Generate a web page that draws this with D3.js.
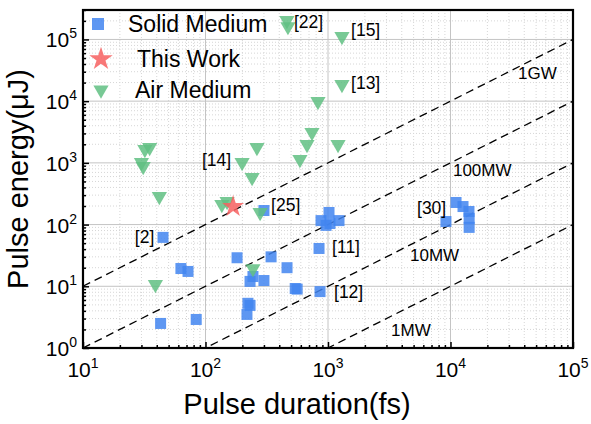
<!DOCTYPE html>
<html>
<head>
<meta charset="utf-8">
<script src="https://cdn.jsdelivr.net/npm/d3@7"></script>
<style>
  body { margin: 0; background: #fff; }
  text { font-family: "Liberation Sans", Arial, sans-serif; }
</style>
</head>
<body>
<div id="chart-area"></div>
<script>
// data: pulse duration (fs) and pulse energy (uJ)
let solidT = [45, 63, 72, 43, 84, 181, 343, 463, 244, 231, 300, 540, 560, 861, 845, 222, 231, 218, 300,
              877, 1019, 1038, 1230, 964, 11100, 12650, 14150, 14200, 14200, 9180];
let solidE = [62, 19.4, 17.4, 2.5, 2.9, 29, 30, 20, 14.4, 12, 12.4, 9.2, 9.0, 8.2, 41, 5.3, 4.9, 3.5, 169,
              116, 157, 104, 116, 97, 228, 196, 163, 126, 90, 112];

let airT = [462, 471, 1300, 1300, 828, 740, 674, 1208, 590, 263, 199, 240, 150, 136, 279, 244, 32, 35, 30, 31, 42, 39];
let airE = [203000, 162000, 112000, 18660, 9890, 3110, 1987, 1987, 1136, 1777, 1015, 580, 237, 212, 157, 19.4,
            1650, 1777, 1015, 875, 285, 10.7];

let thisT = [168];
let thisE = [196];

// reference labels: text, duration, energy of the label's left edge
let refText = ["[22]", "[15]", "[13]", "[14]", "[25]", "[2]", "[30]", "[11]", "[12]"];
let refT = [527, 1542, 1542, 93.5, 343, 26.5, 5330, 1080, 1120];
let refE = [196000, 145000, 20100, 1136, 212, 64, 189, 44, 8.2];

// constant power lines, E(uJ) = P(GW) * t(fs)
let powerText = ["1GW", "100MW", "10MW", "1MW"];
let powerGW = [1, 0.1, 0.01, 0.001];
let powerLabelT = [35600, 10470, 4670, 3270];
let powerLabelE = [29200, 782, 32.8, 2.0];

let xTicks = [10, 100, 1000, 10000, 100000];
let yTicks = [1, 10, 100, 1000, 10000, 100000];

let margin = {top: 10, right: 18, bottom: 76, left: 83};
let width = 591 - margin.left - margin.right;
let height = 424 - margin.top - margin.bottom;

let svg = d3.select("#chart-area").append("svg")
    .attr("width", 591)
    .attr("height", 424)
  .append("g")
    .attr("transform", "translate(" + margin.left + "," + margin.top + ")");

let xScale = d3.scaleLog().domain([10, 100000]).range([0, width]);
let yScale = d3.scaleLog().domain([1, 3e5]).range([height, 0]);

// minor values for grid and ticks
let xMinor = [];
for (let d = 10; d < 100000; d *= 10) for (let k = 2; k <= 9; k++) xMinor.push(d * k);
let yMinor = [];
for (let d = 1; d < 3e5; d *= 10) for (let k = 2; k <= 9; k++) if (d * k <= 3e5) yMinor.push(d * k);

// grid
svg.append("g").selectAll("line").data(xMinor).enter().append("line")
    .attr("x1", d => xScale(d)).attr("x2", d => xScale(d))
    .attr("y1", 0).attr("y2", height)
    .attr("stroke", "#d6d6d6").attr("stroke-dasharray", "1,2");
svg.append("g").selectAll("line").data(yMinor).enter().append("line")
    .attr("y1", d => yScale(d)).attr("y2", d => yScale(d))
    .attr("x1", 0).attr("x2", width)
    .attr("stroke", "#d6d6d6").attr("stroke-dasharray", "1,2");
svg.append("g").selectAll("line").data(xTicks).enter().append("line")
    .attr("x1", d => xScale(d)).attr("x2", d => xScale(d))
    .attr("y1", 0).attr("y2", height)
    .attr("stroke", "#c4c4c4");
svg.append("g").selectAll("line").data(yTicks).enter().append("line")
    .attr("y1", d => yScale(d)).attr("y2", d => yScale(d))
    .attr("x1", 0).attr("x2", width)
    .attr("stroke", "#c4c4c4");

// power lines
svg.append("clipPath").attr("id", "clip")
  .append("rect").attr("width", width).attr("height", height);

let tRange = [10, 100000];
svg.append("g").attr("clip-path", "url(#clip)")
  .selectAll("line").data(powerGW).enter().append("line")
    .attr("x1", xScale(tRange[0])).attr("y1", p => yScale(p * tRange[0]))
    .attr("x2", xScale(tRange[1])).attr("y2", p => yScale(p * tRange[1]))
    .attr("stroke", "#000").attr("stroke-width", 1.3)
    .attr("stroke-dasharray", "8,5");

svg.append("g").selectAll("text").data(powerText).enter().append("text")
    .attr("x", (d, i) => xScale(powerLabelT[i]))
    .attr("y", (d, i) => yScale(powerLabelE[i]))
    .attr("dy", "0.36em")
    .attr("font-size", 17)
    .text(d => d);

// markers
let solidColor = "rgba(66, 133, 240, 0.85)";
let airColor = "rgba(96, 192, 130, 0.85)";
let starColor = "rgba(247, 96, 96, 0.85)";

let tri = d3.symbol().type(d3.symbolTriangle).size(100);
let star = d3.symbol().type(d3.symbolStar).size(150);

svg.append("g").selectAll("rect").data(solidT).enter().append("rect")
    .attr("x", (d, i) => xScale(d) - 5.5)
    .attr("y", (d, i) => yScale(solidE[i]) - 5.5)
    .attr("width", 11).attr("height", 11)
    .attr("fill", solidColor);

svg.append("g").selectAll("path").data(airT).enter().append("path")
    .attr("d", tri)
    .attr("transform", (d, i) => "translate(" + xScale(d) + "," + yScale(airE[i]) + ") rotate(180)")
    .attr("fill", airColor);

svg.append("g").selectAll("path").data(thisT).enter().append("path")
    .attr("d", star)
    .attr("transform", (d, i) => "translate(" + xScale(d) + "," + yScale(thisE[i]) + ")")
    .attr("fill", starColor);

// reference labels
svg.append("g").selectAll("text").data(refText).enter().append("text")
    .attr("x", (d, i) => xScale(refT[i]))
    .attr("y", (d, i) => yScale(refE[i]))
    .attr("dy", "0.36em")
    .attr("font-size", 17.5)
    .text(d => d);

// axes, ticks inward
let xAxis = d3.axisBottom(xScale).tickValues(xTicks).tickFormat("").tickSize(-6);
let xAxisMinor = d3.axisBottom(xScale).tickValues(xMinor).tickFormat("").tickSize(-3);
let yAxis = d3.axisLeft(yScale).tickValues(yTicks).tickFormat("").tickSize(-6);
let yAxisMinor = d3.axisLeft(yScale).tickValues(yMinor).tickFormat("").tickSize(-3);

[xAxis, xAxisMinor].forEach(ax => {
  svg.append("g").attr("transform", "translate(0," + height + ")").call(ax)
    .call(g => g.select(".domain").remove())
    .selectAll("line").attr("stroke", "#000").attr("stroke-width", 1.5);
});
[yAxis, yAxisMinor].forEach(ax => {
  svg.append("g").call(ax)
    .call(g => g.select(".domain").remove())
    .selectAll("line").attr("stroke", "#000").attr("stroke-width", 1.5);
});

// frame
svg.append("rect")
    .attr("width", width).attr("height", height)
    .attr("fill", "none").attr("stroke", "#000").attr("stroke-width", 2.2);

// tick labels with superscripts
let xLab = svg.append("g").selectAll("text").data(xTicks).enter().append("text")
    .attr("x", d => xScale(d))
    .attr("y", height + 29)
    .attr("text-anchor", "middle")
    .attr("font-size", 21);
xLab.append("tspan").text("10");
xLab.append("tspan").attr("dy", -9).attr("font-size", 14).text(d => Math.round(Math.log10(d)));

let yLab = svg.append("g").selectAll("text").data(yTicks).enter().append("text")
    .attr("x", -6)
    .attr("y", d => yScale(d) + 8)
    .attr("text-anchor", "end")
    .attr("font-size", 21);
yLab.append("tspan").text("10");
yLab.append("tspan").attr("dy", -9).attr("font-size", 14).text(d => Math.round(Math.log10(d)));

// axis titles
svg.append("text")
    .attr("x", 214)
    .attr("y", height + 66)
    .attr("text-anchor", "middle")
    .attr("font-size", 29)
    .text("Pulse duration(fs)");

svg.append("text")
    .attr("transform", "translate(" + (-55) + "," + (height / 2) + ") rotate(-90)")
    .attr("text-anchor", "middle")
    .attr("font-size", 29)
    .text("Pulse energy(μJ)");

// legend
let legend = svg.append("g").attr("transform", "translate(15,14)");
legend.append("rect").attr("x", -6).attr("y", -6).attr("width", 12).attr("height", 12).attr("fill", solidColor);
legend.append("text").attr("x", 30).attr("y", 0).attr("dy", "0.36em").attr("font-size", 23).text("Solid Medium");
legend.append("path").attr("d", d3.symbol().type(d3.symbolStar).size(170))
    .attr("transform", "translate(3,35)").attr("fill", starColor);
legend.append("text").attr("x", 39).attr("y", 35).attr("dy", "0.36em").attr("font-size", 23).text("This Work");
legend.append("path").attr("d", tri)
    .attr("transform", "translate(3,66) rotate(180)").attr("fill", airColor);
legend.append("text").attr("x", 37).attr("y", 66).attr("dy", "0.36em").attr("font-size", 23).text("Air Medium");
</script>
</body>
</html>
